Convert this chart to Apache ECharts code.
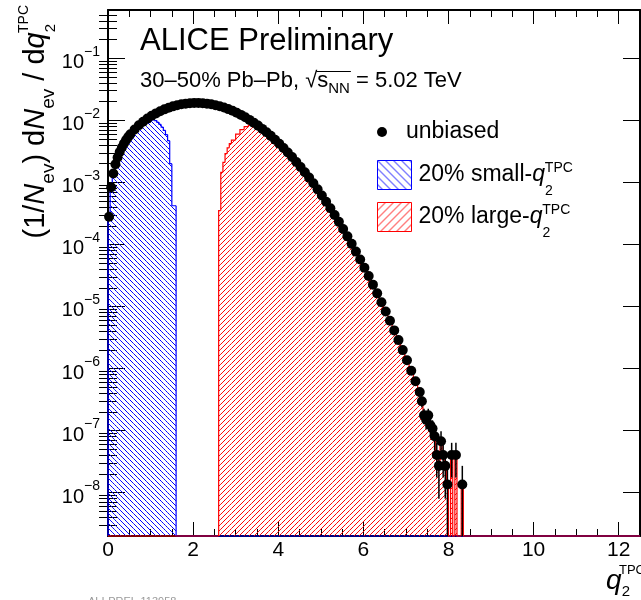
<!DOCTYPE html>
<html>
<head>
<meta charset="utf-8">
<script src="https://cdn.jsdelivr.net/npm/echarts@6.0.0/dist/echarts.min.js"></script>
<style>
  html, body { margin: 0; padding: 0; background: #fff; }
  #chart { width: 641px; height: 600px; }
</style>
</head>
<body>
<div id="chart"></div>
<script>
const FONT = '"Liberation Sans", Arial, Helvetica, sans-serif';
const X_MIN = 0, X_MAX = 12.5;
const Y_MIN = 2e-9, Y_MAX = 0.6;

// unbiased q2 distribution: bin centres and per-event yield
const unbiasedX = [
  0.025, 0.075, 0.125, 0.175, 0.225, 0.275, 0.325, 0.375, 0.425, 0.475,
  0.525, 0.625, 0.725, 0.825, 0.925, 1.025, 1.125, 1.225, 1.325, 1.425,
  1.525, 1.625, 1.725, 1.825, 1.925, 2.025, 2.125, 2.225, 2.325, 2.425,
  2.525, 2.625, 2.725, 2.825, 2.925, 3.025, 3.125, 3.225, 3.325, 3.425,
  3.525, 3.625, 3.725, 3.825, 3.925, 4.025, 4.125, 4.225, 4.325, 4.425,
  4.525, 4.625, 4.725, 4.825, 4.925, 5.025, 5.125, 5.225, 5.325, 5.425,
  5.525, 5.625, 5.725, 5.825, 5.925, 6.025, 6.125, 6.225, 6.325, 6.425,
  6.525, 6.625, 6.725, 6.825, 6.925, 7.025, 7.125, 7.225, 7.325,
  7.375, 7.425, 7.475, 7.525, 7.575, 7.625, 7.675, 7.725, 7.775, 7.825,
  7.875, 7.925, 7.975, 8.075, 8.175, 8.325
];
const unbiasedY = [
  2.79e-4, 8.37e-4, 1.395e-3, 1.956e-3, 2.52e-3, 3.08e-3, 3.65e-3, 4.22e-3, 4.80e-3, 5.37e-3,
  5.95e-3, 7.13e-3, 8.31e-3, 9.49e-3, 1.066e-2, 1.182e-2, 1.294e-2, 1.401e-2, 1.503e-2, 1.594e-2,
  1.680e-2, 1.751e-2, 1.812e-2, 1.856e-2, 1.888e-2, 1.901e-2, 1.904e-2, 1.887e-2, 1.857e-2, 1.811e-2,
  1.754e-2, 1.684e-2, 1.605e-2, 1.517e-2, 1.423e-2, 1.325e-2, 1.224e-2, 1.121e-2, 1.016e-2, 9.18e-3,
  8.22e-3, 7.28e-3, 6.42e-3, 5.62e-3, 4.88e-3, 4.19e-3, 3.58e-3, 3.04e-3, 2.557e-3, 2.133e-3,
  1.770e-3, 1.460e-3, 1.194e-3, 9.68e-4, 7.72e-4, 6.16e-4, 4.87e-4, 3.83e-4, 2.98e-4, 2.31e-4,
  1.77e-4, 1.350e-4, 1.021e-4, 7.66e-5, 5.71e-5, 4.22e-5, 3.09e-5, 2.25e-5, 1.628e-5, 1.168e-5,
  8.32e-6, 5.87e-6, 4.12e-6, 2.87e-6, 1.98e-6, 1.357e-6, 9.24e-7, 6.24e-7, 4.18e-7,
  2.97e-7, 1.76e-7, 1.49e-7, 1.76e-7, 1.22e-7, 1.08e-7, 8.1e-8, 4.05e-8, 2.7e-8, 6.75e-8,
  4.05e-8, 2.7e-8, 1.35e-8, 4.05e-8, 4.05e-8, 1.35e-8
];
// statistical errors of the last (low-count) points
const tailErr = [
  6.1e-8, 4.9e-8, 4.5e-8, 4.9e-8, 4.05e-8, 3.8e-8, 3.3e-8, 2.3e-8, 1.9e-8, 3.0e-8,
  2.3e-8, 1.9e-8, 1.35e-8, 2.3e-8, 2.3e-8, 1.35e-8
];

// 20% small-q2 selection (bin edges and contents)
const smallEdges = [
  0, 0.05, 0.1, 0.15, 0.2, 0.25, 0.3, 0.35, 0.4, 0.45, 0.5, 0.6, 0.7, 0.8, 0.9,
  1.0, 1.1, 1.15, 1.2, 1.25, 1.3, 1.35, 1.4, 1.45, 1.5, 1.6, 12.5
];
const smallVals = [
  2.7e-4, 8.0e-4, 1.33e-3, 1.86e-3, 2.4e-3, 2.9e-3, 3.45e-3, 4.0e-3, 4.55e-3, 5.1e-3,
  5.6e-3, 6.7e-3, 7.8e-3, 8.8e-3, 9.7e-3, 1.02e-2, 9.9e-3, 9.3e-3, 8.6e-3, 7.8e-3,
  6.9e-3, 5.9e-3, 4.7e-3, 2.0e-3, 4.2e-4, 0
];

// 20% large-q2 selection
const largeEdges = [
  0, 2.6, 2.65, 2.7, 2.75, 2.8, 2.85, 2.9, 3.0, 3.1, 3.2, 3.3,
  3.375, 3.475, 3.575, 3.675, 3.775, 3.875, 3.975, 4.075, 4.175, 4.275,
  4.375, 4.475, 4.575, 4.675, 4.775, 4.875, 4.975, 5.075, 5.175, 5.275,
  5.375, 5.475, 5.575, 5.675, 5.775, 5.875, 5.975, 6.075, 6.175, 6.275,
  6.375, 6.475, 6.575, 6.675, 6.775, 6.875, 6.975, 7.075, 7.175, 7.275,
  7.35, 7.4, 7.45, 7.5, 7.55, 7.6, 7.65, 7.7, 7.75, 7.8, 7.85, 7.9, 7.95,
  8.0, 8.05, 8.1, 8.15, 8.2, 8.3, 8.35, 12.5
];
const largeVals = [
  0, 3.5e-4, 1.45e-3, 2.1e-3, 2.9e-3, 3.6e-3, 4.2e-3, 4.8e-3, 6.0e-3, 7.1e-3, 7.9e-3, 8.4e-3,
  8.6e-3, 7.9e-3, 7.1e-3, 6.25e-3, 5.47e-3, 4.75e-3, 4.08e-3, 3.48e-3, 2.95e-3, 2.48e-3,
  2.07e-3, 1.72e-3, 1.42e-3, 1.16e-3, 9.4e-4, 7.5e-4, 6.0e-4, 4.73e-4, 3.72e-4, 2.9e-4,
  2.24e-4, 1.72e-4, 1.31e-4, 9.9e-5, 7.4e-5, 5.5e-5, 4.1e-5, 3.0e-5, 2.18e-5, 1.58e-5,
  1.13e-5, 8.1e-6, 5.7e-6, 4.0e-6, 2.8e-6, 1.92e-6, 1.32e-6, 9.0e-7, 6.05e-7, 4.05e-7,
  2.97e-7, 1.76e-7, 1.49e-7, 1.76e-7, 1.22e-7, 1.08e-7, 8.1e-8, 4.05e-8, 2.7e-8, 6.75e-8,
  4.05e-8, 2.7e-8, 1.35e-8, 0, 4.05e-8, 0, 4.05e-8, 0, 1.35e-8, 0
];

const xTicks = [0, 2, 4, 6, 8, 10, 12];

// hatch pattern for the legend keys
function hatch(color, step, dir) {
  const c = document.createElement('canvas');
  c.width = c.height = step;
  const ctx = c.getContext('2d');
  ctx.strokeStyle = color;
  ctx.lineWidth = 1;
  ctx.beginPath();
  for (let k = -1; k <= 1; k++) {
    if (dir === 'back') { ctx.moveTo(k * step, 0); ctx.lineTo(k * step + step, step); }
    else { ctx.moveTo(k * step, step); ctx.lineTo(k * step + step, 0); }
  }
  ctx.stroke();
  return { image: c, repeat: 'repeat' };
}
const blueKey = hatch('#0000ff', 8, 'back');
const redKey = hatch('#ff0000', 8, 'fwd');

// 45 degree hatch lines inside a pixel box, aligned on a global grid
function hatchPath(x0, y0, x1, y1, s, dir) {
  let d = '';
  if (dir === 'back') {
    for (let c = Math.ceil((x0 - y1) / s) * s; c <= x1 - y0; c += s) {
      const ya = Math.max(y0, x0 - c), yb = Math.min(y1, x1 - c);
      if (yb > ya) d += 'M' + (ya + c) + ' ' + ya + 'L' + (yb + c) + ' ' + yb;
    }
  } else {
    for (let c = Math.ceil((x0 + y0) / s) * s; c <= x1 + y1; c += s) {
      const ya = Math.max(y0, c - x1), yb = Math.min(y1, c - x0);
      if (yb > ya) d += 'M' + (c - ya) + ' ' + ya + 'L' + (c - yb) + ' ' + yb;
    }
  }
  return d;
}

function histData(edges, vals) {
  return vals.map((v, i) => [edges[i], edges[i + 1], v, i ? vals[i - 1] : 0]);
}

function histItem(stroke, dir) {
  return function (params, api) {
    const v = api.value(2);
    const top = Math.max(v, Y_MIN);
    const prev = Math.max(api.value(3), Y_MIN);
    const a = api.coord([api.value(0), top]);
    const b = api.coord([api.value(1), top]);
    const p = api.coord([api.value(0), prev]);
    const base = api.coord([api.value(1), Y_MIN]);
    const children = [];
    if (v > 0) {
      const d = hatchPath(a[0], a[1], b[0], base[1], 5, dir);
      if (d) children.push({ type: 'path', shape: { pathData: d }, style: { stroke: stroke, fill: null, lineWidth: 1 } });
    }
    children.push({ type: 'polyline', shape: { points: [p, a, b] }, style: { stroke: stroke, fill: null, lineWidth: 1.2 } });
    return { type: 'group', children: children };
  };
}

const LOG_MIN = Math.log10(Y_MIN), LOG_MAX = Math.log10(Y_MAX);
const minorLog = [];
for (let e = -9; e <= -1; e++) {
  for (let m = 2; m <= 9; m++) {
    const v = e + Math.log10(m);
    if (v > LOG_MIN && v < LOG_MAX) minorLog.push(v);
  }
}

const supLabel = v => {
  const e = Math.round(Math.log10(v));
  return '{b|10}{sup|' + (e < 0 ? '\u2212' + (-e) : e) + '}';
};

const keyRich = {
  n: { fontSize: 23, verticalAlign: 'middle', lineHeight: 46 },
  i: { fontSize: 23, fontStyle: 'italic', verticalAlign: 'middle', lineHeight: 46 },
  s2: { fontSize: 14, verticalAlign: 'bottom' },
  sup: { fontSize: 14, verticalAlign: 'top', padding: [9, 0, 0, -8] }
};
const keyText = { fontFamily: FONT, fontSize: 23, color: '#000', lineHeight: 46, rich: keyRich, padding: [0, 0, 0, 2] };
const keyName = { unbiased: 'unbiased', small: '{n|20% small-}{i|q}{s2|2}{sup|TPC}', large: '{n|20% large-}{i|q}{s2|2}{sup|TPC}' };

const ticksX = (pos, labels) => ({
  type: 'value', min: X_MIN, max: X_MAX, interval: 2, position: pos,
  axisLine: { show: true, onZero: false, lineStyle: { color: '#000', width: 2 } },
  axisTick: { show: true, inside: true, length: 14, lineStyle: { color: '#000', width: 1 } },
  minorTick: { show: true, splitNumber: 4, length: 7, lineStyle: { color: '#000', width: 1 } },
  axisLabel: labels ? { show: true, fontFamily: FONT, fontSize: 21, color: '#000', margin: 4, customValues: xTicks } : { show: false },
  splitLine: { show: false }
});

const majorY = (pos, withLabel) => ({
  type: 'log', min: Y_MIN, max: Y_MAX, position: pos,
  axisLine: { show: true, onZero: false, lineStyle: { color: '#000', width: 2 } },
  axisTick: { show: true, inside: true, length: 17, lineStyle: { color: '#000', width: 1 } },
  axisLabel: withLabel ? {
    show: true, showMinLabel: false, showMaxLabel: false, margin: 8, color: '#000', fontFamily: FONT,
    formatter: supLabel,
    rich: { b: { fontSize: 20, padding: [9, 0, 0, 0] }, sup: { fontSize: 14, verticalAlign: 'top', padding: [1, 0, 0, 0] } }
  } : { show: false },
  splitLine: { show: false }
});

const minorY = pos => ({
  type: 'value', min: LOG_MIN, max: LOG_MAX, position: pos,
  axisLine: { show: false }, axisLabel: { show: false }, splitLine: { show: false },
  axisTick: { show: true, inside: true, length: 9, customValues: minorLog, lineStyle: { color: '#000', width: 1 } }
});

const yTitle = majorY('left', true);
yTitle.name = '{n|(1/}{i|N}{ev|ev}{n|) d}{i|N}{ev|ev}{n| / d}{i|q}{s2|2}{sup|TPC}';
yTitle.nameLocation = 'end';
yTitle.nameRotate = 90;
yTitle.nameGap = 5;
yTitle.nameMoveOverlap = false;
yTitle.nameTextStyle = {
  fontFamily: FONT, color: '#000', align: 'right', verticalAlign: 'bottom', padding: [0, 0, 50, 0],
  rich: {
    n: { fontSize: 29, verticalAlign: 'middle', lineHeight: 44 },
    i: { fontSize: 29, fontStyle: 'italic', verticalAlign: 'middle', lineHeight: 44 },
    ev: { fontSize: 19, verticalAlign: 'bottom' },
    s2: { fontSize: 15, verticalAlign: 'bottom' },
    sup: { fontSize: 14, verticalAlign: 'top', padding: [3, 0, 0, -9] }
  }
};

const xTitle = ticksX('bottom', true);
xTitle.name = '{i|q}{s2|2}{sup|TPC}';
xTitle.nameLocation = 'end';
xTitle.nameGap = 5;
xTitle.nameMoveOverlap = false;
xTitle.nameTextStyle = {
  fontFamily: FONT, color: '#000', align: 'right', verticalAlign: 'top', padding: [27, 0, 0, 0],
  rich: {
    i: { fontSize: 28, fontStyle: 'italic', verticalAlign: 'middle', lineHeight: 36 },
    s2: { fontSize: 15, verticalAlign: 'bottom' },
    sup: { fontSize: 13, verticalAlign: 'top', padding: [1, 0, 0, -11] }
  }
};

// overline of the square root in the collision label, placed from measured text widths
const meas = document.createElement('canvas').getContext('2d');
const textW = (t, size) => { meas.font = size + 'px ' + FONT; return meas.measureText(t).width; };
const rootX = 140 + textW('30\u201350% Pb\u2013Pb, \u221A', 22) - 1;
const rootEnd = rootX + 1 + textW('s', 22) + textW('NN', 15) + 1;

const chart = echarts.init(document.getElementById('chart'));
chart.setOption({
  animation: false,
  backgroundColor: '#fff',
  textStyle: { fontFamily: FONT },
  title: [
    { text: 'ALICE Preliminary', left: 140, top: 26, padding: 0,
      textStyle: { fontFamily: FONT, fontSize: 31, fontWeight: 'normal', color: '#000' } },
    { text: '{n|30\u201350% Pb\u2013Pb, \u221A}{n|s}{nn|NN}{n| = 5.02 TeV}', left: 140, top: 66, padding: 0,
      textStyle: { fontFamily: FONT, fontSize: 22, fontWeight: 'normal', color: '#000',
        rich: { n: { fontSize: 22, lineHeight: 30, verticalAlign: 'middle' }, nn: { fontSize: 15, verticalAlign: 'bottom' } } } },
    { text: 'ALI-PREL-113958', left: 88, top: 596, padding: 0,
      textStyle: { fontFamily: FONT, fontSize: 11, fontWeight: 'normal', color: '#999' } }
  ],
  graphic: [
    { type: 'line', silent: true, shape: { x1: rootX, y1: 71.5, x2: rootEnd, y2: 71.5 }, style: { stroke: '#000', lineWidth: 1.2 } }
  ],
  grid: { left: 108, right: 1, top: 10, bottom: 64, outerBoundsMode: 'none' },
  legend: [
    { data: [{ name: 'unbiased', icon: 'circle' }], left: 377, top: 109, padding: 0, itemWidth: 34, itemHeight: 10,
      selectedMode: false, textStyle: keyText },
    { data: [{ name: 'small', icon: 'rect', itemStyle: { color: blueKey, borderColor: '#0000ff', borderWidth: 1 } }],
      left: 377, top: 152, padding: 0, itemWidth: 34, itemHeight: 29, selectedMode: false,
      formatter: n => keyName[n], textStyle: keyText },
    { data: [{ name: 'large', icon: 'rect', itemStyle: { color: redKey, borderColor: '#ff0000', borderWidth: 1 } }],
      left: 377, top: 194, padding: 0, itemWidth: 34, itemHeight: 29, selectedMode: false,
      formatter: n => keyName[n], textStyle: keyText }
  ],
  xAxis: [xTitle, ticksX('top', false)],
  yAxis: [yTitle, minorY('left'), majorY('right', false), minorY('right')],
  series: [
    {
      type: 'custom', name: 'small', xAxisIndex: 0, yAxisIndex: 0, silent: true,
      itemStyle: { color: blueKey, borderColor: '#0000ff' },
      encode: { x: [0, 1], y: 2 },
      renderItem: histItem('#0000ff', 'back'),
      data: histData(smallEdges, smallVals)
    },
    {
      type: 'custom', name: 'large', xAxisIndex: 0, yAxisIndex: 0, silent: true,
      itemStyle: { color: redKey, borderColor: '#ff0000' },
      encode: { x: [0, 1], y: 2 },
      renderItem: histItem('#ff0000', 'fwd'),
      data: histData(largeEdges, largeVals)
    },
    {
      type: 'custom', name: 'errors', xAxisIndex: 0, yAxisIndex: 0, silent: true,
      encode: { x: 0, y: [1, 2] },
      renderItem: function (params, api) {
        const lo = api.coord([api.value(0), Math.max(api.value(1), Y_MIN)]);
        const hi = api.coord([api.value(0), api.value(2)]);
        return { type: 'line', shape: { x1: lo[0], y1: lo[1], x2: hi[0], y2: hi[1] }, style: { stroke: '#000', lineWidth: 1.5 } };
      },
      data: tailErr.map((err, i) => {
        const k = unbiasedY.length - tailErr.length + i;
        return [unbiasedX[k], unbiasedY[k] - err, unbiasedY[k] + err];
      })
    },
    {
      type: 'scatter', name: 'unbiased', xAxisIndex: 0, yAxisIndex: 0, silent: true,
      symbol: 'circle', symbolSize: 10, itemStyle: { color: '#000', opacity: 1 },
      data: unbiasedX.map((x, i) => [x, unbiasedY[i]])
    }
  ]
});
</script>
</body>
</html>
